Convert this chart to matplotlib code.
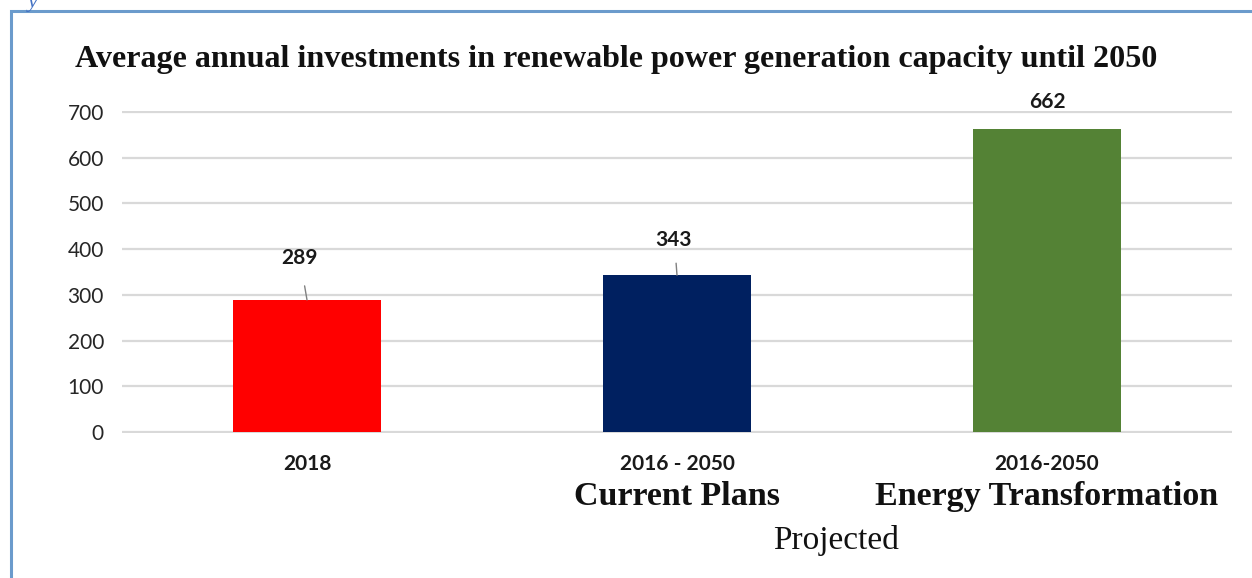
import matplotlib.pyplot as plt
from matplotlib.patches import Rectangle

# average annual investments (USD billion)
periods = ['2018', '2016 - 2050', '2016-2050']
scenarios = ['', 'Current Plans', 'Energy Transformation']
values = [289, 343, 662]
bar_colors = ['#ff0000', '#002060', '#548235']
y_ticks = [0, 100, 200, 300, 400, 500, 600, 700]

title = 'Average annual investments in renewable power generation capacity until 2050'
group_label = 'Projected'

sans = ['Lato', 'DejaVu Sans']
serif = ['Liberation Serif', 'DejaVu Serif']

fig = plt.figure(figsize=(12.52, 5.78), dpi=100)
ax = fig.add_axes([122 / 1252, (578 - 433.4) / 578, 1110 / 1252, 322.8 / 578])

x = range(len(values))
ax.bar(x, values, width=0.4, color=bar_colors, zorder=2)
ax.set_xlim(-0.5, 2.5)
ax.set_ylim(-3, 703)
ax.set_yticks(y_ticks)
ax.set_yticklabels([str(t) for t in y_ticks], family=sans, fontsize=15, color='#262626')
ax.tick_params(axis='y', length=0, pad=13)
ax.grid(axis='y', color='#d9d9d9', linewidth=1.6, zorder=0)
ax.set_axisbelow(True)
for s in ax.spines.values():
    s.set_visible(False)

# category labels: period on top, scenario name below
ax.set_xticks(list(x))
ax.set_xticklabels(periods, family=sans, fontsize=15, fontweight='bold', color='#1a1a1a')
ax.tick_params(axis='x', length=0, pad=15)
for i, name in enumerate(scenarios):
    if name:
        ax.annotate(name, xy=(i, 0), xytext=(0, -64), textcoords='offset pixels',
                    ha='center', va='center', family=serif, fontsize=24.5,
                    fontweight='bold', color='#111111')
ax.annotate(group_label, xy=(1.43, 0), xytext=(0, -108), textcoords='offset pixels',
            ha='center', va='center', family=serif, fontsize=24, color='#111111')

# value labels, two of them pulled up with a short leader line
label_offsets = [(-8, 42, 14), (-3, 35, 12), (0, 27, 0)]
for i, v in enumerate(values):
    dx, dy, lead = label_offsets[i]
    ax.annotate(str(v), xy=(i, v), xytext=(dx, dy), textcoords='offset pixels',
                ha='center', va='center', family=sans, fontsize=15,
                fontweight='bold', color='#1a1a1a', annotation_clip=False)
    if lead:
        ax.annotate('', xy=(i, v), xytext=(dx * 0.3, lead), textcoords='offset pixels',
                    arrowprops=dict(arrowstyle='-', color='#808080', lw=1,
                                    shrinkA=0, shrinkB=0))

fig.text(75 / 1252, 1 - 59 / 578, title, family=serif, fontsize=23.1,
         fontweight='bold', ha='left', va='center', color='#111111')

# blue page frame and clipped caption glyph above it
fig.patches.append(Rectangle((11 / 1252, -0.1), 1.2, 1 - 11 / 578 + 0.1,
                             transform=fig.transFigure, fill=False,
                             edgecolor='#6b9bcc', linewidth=2.2))
fig.text(28 / 1252, 1 - 2 / 578, 'y', family=serif, fontsize=16, style='italic',
         color='#4472c4', ha='left', va='center')

fig.savefig('out.png', dpi=100)
